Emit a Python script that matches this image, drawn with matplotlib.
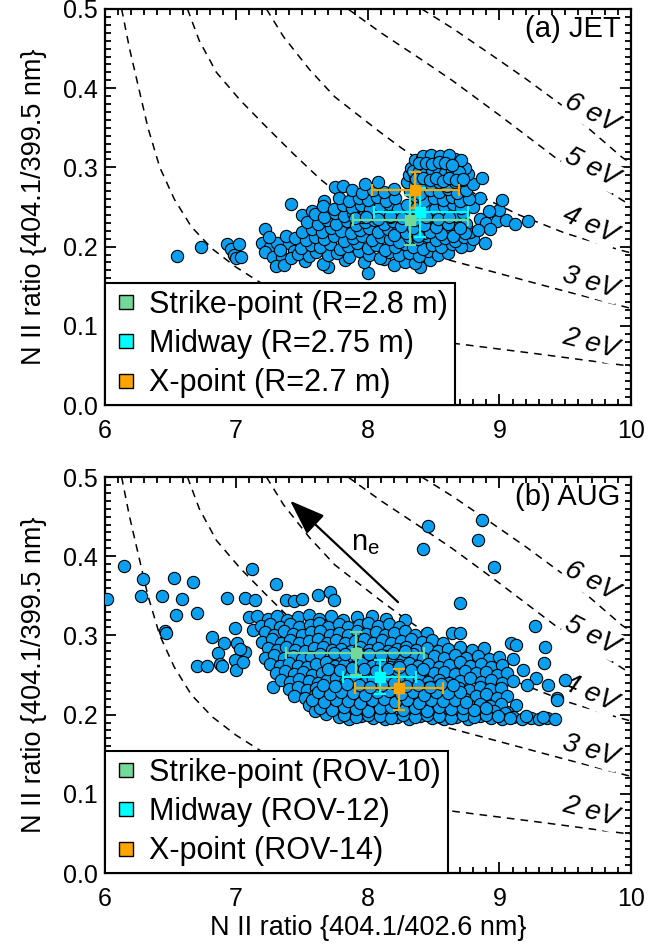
import numpy as np
import matplotlib
matplotlib.use("Agg")
import matplotlib.pyplot as plt
from matplotlib.lines import Line2D
from matplotlib.ticker import MultipleLocator, FixedLocator, FixedFormatter

plt.rcParams['font.family'] = ['Liberation Sans', 'DejaVu Sans']
plt.rcParams['mathtext.fontset'] = 'custom'
plt.rcParams['mathtext.rm'] = 'Liberation Sans'
plt.rcParams['mathtext.it'] = 'Liberation Sans:italic'

# ---------------- Te contour curves ----------------
te_labels = ['2 eV', '3 eV', '4 eV', '5 eV', '6 eV']
c2_x = [6.13, 6.19, 6.26, 6.33, 6.42, 6.53, 6.66, 6.82, 7.00, 7.18, 7.60, 8.10, 8.65, 9.27, 10.0]
c2_y = [0.50, 0.45, 0.40, 0.35, 0.30, 0.26, 0.225, 0.197, 0.174, 0.155, 0.118, 0.094, 0.078, 0.065, 0.049]
c3_x = [6.63, 6.72, 6.85, 7.03, 7.23, 7.43, 7.64, 7.85, 8.10, 8.35, 8.62, 9.00, 9.47, 10.0]
c3_y = [0.50, 0.46, 0.42, 0.385, 0.351, 0.318, 0.285, 0.257, 0.228, 0.204, 0.183, 0.166, 0.145, 0.122]
c4_x = [7.23, 7.36, 7.56, 7.75, 8.09, 8.26, 8.50, 8.80, 9.15, 9.50, 9.91, 10.0]
c4_y = [0.50, 0.465, 0.423, 0.389, 0.345, 0.324, 0.297, 0.268, 0.240, 0.217, 0.196, 0.192]
c5_x = [7.85, 8.10, 8.40, 8.64, 9.00, 9.42, 9.93, 10.0]
c5_y = [0.50, 0.47, 0.437, 0.41, 0.366, 0.313, 0.259, 0.252]
c6_x = [8.41, 8.65, 8.94, 9.20, 9.47, 9.93, 10.0]
c6_y = [0.50, 0.475, 0.442, 0.412, 0.379, 0.313, 0.305]
lab_x = [9.69, 9.69, 9.69, 9.70, 9.70]
lab_y = [0.077, 0.155, 0.227, 0.300, 0.369]
lab_rot = [-15, -17, -24, -27, -28]

# ---------------- JET scatter ----------------
jet_x_extra = [6.55, 6.73, 6.93, 6.96, 6.98, 7.02, 7.00, 7.04,
               7.22, 7.20, 7.26, 7.31, 7.22, 7.28, 7.35, 7.30, 7.36, 7.40, 7.44, 7.42, 7.25, 7.33, 7.38,
               7.42, 7.50, 7.67, 7.75, 7.81, 7.58, 7.62,
               7.70, 8.00, 8.40,
               8.85, 8.90, 8.98, 9.05, 9.12, 9.22, 9.00, 9.02, 8.93, 8.89, 8.77, 8.80, 8.85, 8.92]
jet_y_extra = [0.188, 0.200, 0.203, 0.197, 0.190, 0.203, 0.185, 0.187,
               0.222, 0.205, 0.200, 0.205, 0.193, 0.187, 0.187, 0.175, 0.177, 0.205, 0.195, 0.186, 0.212, 0.196, 0.213,
               0.254, 0.240, 0.258, 0.275, 0.276, 0.245, 0.236,
               0.174, 0.167, 0.174,
               0.235, 0.230, 0.232, 0.234, 0.228, 0.232, 0.246, 0.259, 0.222, 0.205, 0.202, 0.250, 0.262, 0.245]
jet_rows_x = [
    [7.52, 7.66, 7.83, 7.97, 8.12, 8.20, 8.28, 8.36, 8.47],
    [7.47, 7.55, 7.61, 7.70, 7.77, 7.86, 7.93, 8.01, 8.09, 8.16, 8.24, 8.31, 8.39, 8.46, 8.53, 8.61],
    [7.49, 7.57, 7.64, 7.71, 7.79, 7.85, 7.92, 8.00, 8.06, 8.13, 8.21, 8.28, 8.34, 8.42, 8.49, 8.56, 8.64, 8.71],
    [7.45, 7.53, 7.60, 7.67, 7.74, 7.82, 7.89, 7.96, 8.03, 8.10, 8.17, 8.24, 8.31, 8.38, 8.45, 8.52, 8.59, 8.66,
     8.73, 8.80],
    [7.50, 7.58, 7.65, 7.72, 7.80, 7.87, 7.94, 8.01, 8.08, 8.15, 8.22, 8.29, 8.36, 8.43, 8.50, 8.57, 8.64, 8.71,
     8.78, 8.84],
    [7.54, 7.62, 7.69, 7.76, 7.84, 7.91, 7.98, 8.05, 8.12, 8.19, 8.26, 8.33, 8.40, 8.47, 8.54, 8.61, 8.68, 8.75],
    [7.60, 7.67, 7.75, 7.82, 7.89, 7.96, 8.03, 8.10, 8.17, 8.24, 8.31, 8.38, 8.45, 8.52, 8.59, 8.66, 8.72],
    [7.66, 7.74, 7.81, 7.88, 7.95, 8.02, 8.09, 8.16, 8.23, 8.30, 8.37, 8.44, 8.51, 8.58, 8.65, 8.71],
    [7.78, 7.86, 7.93, 8.00, 8.07, 8.14, 8.21, 8.36, 8.43, 8.50, 8.57, 8.64, 8.70, 8.77],
    [7.88, 7.96, 8.04, 8.12, 8.20, 8.32, 8.40, 8.47, 8.54, 8.61, 8.68, 8.75],
    [7.98, 8.08, 8.30, 8.36, 8.42, 8.48, 8.54, 8.60, 8.66, 8.72, 8.80, 8.87],
    [8.31, 8.36, 8.41, 8.46, 8.51, 8.56, 8.61, 8.66, 8.71, 8.76],
    [8.33, 8.38, 8.43, 8.48, 8.53, 8.58, 8.63, 8.68, 8.74],
    [8.36, 8.41, 8.46, 8.51, 8.56, 8.61, 8.66, 8.71],
    [8.42, 8.48, 8.55, 8.62],
    # denser core of the upper blob and of the body
    [8.34, 8.39, 8.44, 8.49, 8.54, 8.59, 8.64, 8.69],
    [8.37, 8.42, 8.47, 8.52, 8.57, 8.62, 8.67, 8.72],
    [8.39, 8.44, 8.49, 8.54, 8.59, 8.64],
    [8.20, 8.29, 8.38, 8.47, 8.56, 8.65, 8.74],
    [8.25, 8.34, 8.43, 8.52, 8.61, 8.70],
    [7.90, 7.99, 8.08, 8.17, 8.26, 8.35, 8.44, 8.53, 8.62],
]
jet_rows_y = [
    [0.182, 0.178, 0.183, 0.180, 0.184, 0.177, 0.181, 0.179, 0.183],
    [0.191, 0.188, 0.193, 0.189, 0.192, 0.187, 0.194, 0.190, 0.186, 0.193, 0.189, 0.192, 0.188, 0.194, 0.190, 0.192],
    [0.198, 0.202, 0.199, 0.203, 0.197, 0.201, 0.204, 0.198, 0.202, 0.196, 0.200, 0.203, 0.199, 0.197, 0.202, 0.199,
     0.203, 0.200],
    [0.211, 0.208, 0.212, 0.209, 0.213, 0.207, 0.211, 0.214, 0.208, 0.212, 0.209, 0.206, 0.212, 0.210, 0.214, 0.208,
     0.211, 0.207, 0.212, 0.209],
    [0.219, 0.222, 0.218, 0.223, 0.220, 0.217, 0.221, 0.224, 0.219, 0.222, 0.218, 0.223, 0.220, 0.217, 0.221, 0.224,
     0.219, 0.222, 0.218, 0.221],
    [0.231, 0.228, 0.233, 0.229, 0.232, 0.227, 0.231, 0.234, 0.228, 0.232, 0.229, 0.233, 0.227, 0.231, 0.234, 0.229,
     0.232, 0.228],
    [0.241, 0.238, 0.242, 0.239, 0.243, 0.237, 0.241, 0.244, 0.238, 0.242, 0.239, 0.243, 0.237, 0.241, 0.244, 0.239,
     0.242],
    [0.251, 0.248, 0.253, 0.249, 0.252, 0.247, 0.251, 0.254, 0.248, 0.252, 0.249, 0.253, 0.247, 0.251, 0.254, 0.249],
    [0.261, 0.258, 0.262, 0.259, 0.263, 0.257, 0.261, 0.264, 0.258, 0.262, 0.259, 0.263, 0.257, 0.260],
    [0.271, 0.268, 0.272, 0.269, 0.273, 0.270, 0.267, 0.272, 0.269, 0.273, 0.268, 0.271],
    [0.279, 0.282, 0.281, 0.278, 0.283, 0.279, 0.282, 0.277, 0.281, 0.284, 0.279, 0.287],
    [0.291, 0.288, 0.292, 0.289, 0.293, 0.288, 0.291, 0.294, 0.289, 0.292],
    [0.299, 0.302, 0.298, 0.303, 0.300, 0.297, 0.301, 0.304, 0.299],
    [0.309, 0.312, 0.308, 0.313, 0.310, 0.307, 0.311, 0.309],
    [0.315, 0.316, 0.314, 0.316],
    [0.295, 0.296, 0.294, 0.297, 0.295, 0.293, 0.296, 0.294],
    [0.285, 0.286, 0.284, 0.287, 0.283, 0.286, 0.284, 0.285],
    [0.305, 0.306, 0.304, 0.307, 0.305, 0.303],
    [0.215, 0.217, 0.214, 0.218, 0.216, 0.213, 0.217],
    [0.226, 0.224, 0.227, 0.225, 0.228, 0.224],
    [0.236, 0.238, 0.235, 0.239, 0.236, 0.234, 0.238, 0.235, 0.237],
]

# ---------------- AUG scatter ----------------
aug_x_extra = [6.02, 6.15, 6.29, 6.28, 6.44, 6.53, 6.59, 6.67, 6.54, 6.70, 6.46, 6.47, 6.82, 6.91, 6.86,
               6.88, 6.89, 6.70, 6.78, 6.99, 7.01, 7.07, 6.93, 7.07, 7.14, 7.12, 7.30, 7.38, 7.44, 7.50,
               7.62, 7.71, 7.74, 7.10, 7.13, 6.99, 7.00, 7.05, 7.03, 7.28,
               8.46, 8.87, 8.84, 8.42, 8.96, 8.70, 9.27, 8.28, 8.64, 8.70, 9.09, 9.13, 9.35, 9.34, 9.50,
               9.44, 9.28, 9.37, 9.21, 9.10, 9.18, 9.13, 9.06, 9.44]
aug_y_extra = [0.346, 0.388, 0.371, 0.350, 0.350, 0.372, 0.346, 0.367, 0.326, 0.328, 0.306, 0.303, 0.298, 0.291, 0.278,
               0.264, 0.261, 0.261, 0.261, 0.309, 0.290, 0.279, 0.347, 0.347, 0.345, 0.384, 0.365, 0.345, 0.343, 0.346,
               0.351, 0.355, 0.345, 0.323, 0.307, 0.269, 0.256, 0.266, 0.283, 0.235,
               0.438, 0.446, 0.420, 0.409, 0.386, 0.341, 0.312, 0.319, 0.303, 0.303, 0.290, 0.288, 0.285, 0.265, 0.244,
               0.221, 0.246, 0.237, 0.237, 0.270, 0.256, 0.212, 0.203, 0.218]
aug_rows_x = [
    [7.16, 7.24, 7.31, 7.39, 7.47, 7.55, 7.63, 7.72, 7.81, 7.92, 8.03, 8.14],
    [7.19, 7.26, 7.33, 7.41, 7.48, 7.56, 7.63, 7.70, 7.78, 7.85, 7.93, 8.00, 8.08, 8.16, 8.24],
    [7.22, 7.29, 7.36, 7.43, 7.50, 7.57, 7.64, 7.71, 7.78, 7.85, 7.92, 7.99, 8.06, 8.13, 8.20, 8.28, 8.36, 8.45],
    [7.20, 7.27, 7.34, 7.41, 7.48, 7.55, 7.62, 7.69, 7.76, 7.83, 7.90, 7.97, 8.04, 8.11, 8.18, 8.25, 8.33, 8.41,
     8.49, 8.57],
    [7.24, 7.31, 7.38, 7.45, 7.52, 7.59, 7.66, 7.73, 7.80, 7.87, 7.94, 8.01, 8.08, 8.15, 8.22, 8.29, 8.37, 8.45,
     8.53, 8.61, 8.70, 8.79, 8.88],
    [7.22, 7.29, 7.36, 7.43, 7.50, 7.57, 7.64, 7.71, 7.78, 7.85, 7.92, 7.99, 8.06, 8.13, 8.20, 8.27, 8.34, 8.42,
     8.50, 8.58, 8.66, 8.75, 8.84, 8.92, 9.00],
    [7.26, 7.33, 7.40, 7.47, 7.54, 7.61, 7.68, 7.75, 7.82, 7.89, 7.96, 8.03, 8.10, 8.17, 8.24, 8.31, 8.38, 8.46,
     8.54, 8.62, 8.70, 8.78, 8.86, 8.94, 9.02],
    [7.30, 7.37, 7.44, 7.51, 7.58, 7.65, 7.72, 7.79, 7.86, 7.93, 8.00, 8.07, 8.14, 8.21, 8.28, 8.35, 8.42, 8.50,
     8.58, 8.66, 8.74, 8.82, 8.90, 8.98, 9.06],
    [7.34, 7.41, 7.48, 7.55, 7.62, 7.69, 7.76, 7.83, 7.90, 7.97, 8.04, 8.11, 8.18, 8.25, 8.32, 8.39, 8.46, 8.54,
     8.62, 8.70, 8.78, 8.86, 8.94, 9.02, 9.10],
    [7.40, 7.47, 7.54, 7.61, 7.68, 7.75, 7.82, 7.89, 7.96, 8.03, 8.10, 8.17, 8.24, 8.31, 8.38, 8.45, 8.53, 8.61,
     8.69, 8.77, 8.85, 8.93, 9.01],
    [7.44, 7.52, 7.60, 7.67, 7.74, 7.81, 7.88, 7.95, 8.02, 8.09, 8.16, 8.23, 8.30, 8.37, 8.44, 8.51, 8.58, 8.66,
     8.74, 8.82, 8.90, 8.98, 9.06],
    [7.55, 7.63, 7.71, 7.78, 7.85, 7.92, 7.99, 8.06, 8.13, 8.20, 8.27, 8.34, 8.41, 8.48, 8.55, 8.62, 8.69, 8.77,
     8.85, 8.93, 9.01],
    [7.60, 7.68, 7.76, 7.84, 7.92, 8.00, 8.08, 8.16, 8.24, 8.32, 8.40, 8.48, 8.56, 8.64, 8.72, 8.80, 8.88, 8.96,
     9.04],
    [7.78, 7.86, 7.95, 8.04, 8.13, 8.22, 8.31, 8.40, 8.49, 8.58, 8.67, 8.76, 8.85, 8.94, 9.02, 9.10, 9.17, 9.24,
     9.30, 9.36, 9.42],
    # denser core
    [7.82, 7.91, 8.00, 8.09, 8.18, 8.27, 8.36, 8.45, 8.54, 8.63, 8.72, 8.81, 8.90, 8.99, 9.08, 9.20, 9.33],
    [7.64, 7.73, 7.82, 7.91, 8.00, 8.09, 8.18, 8.27, 8.36, 8.45, 8.54, 8.63, 8.72, 8.81, 8.90],
    [7.58, 7.67, 7.76, 7.85, 7.94, 8.03, 8.12, 8.21, 8.30, 8.39, 8.48, 8.57, 8.66, 8.75],
    [7.62, 7.71, 7.80, 7.89, 7.98, 8.07, 8.16, 8.25, 8.34, 8.43, 8.52, 8.61, 8.70],
    [7.66, 7.75, 7.84, 7.93, 8.02, 8.11, 8.20, 8.29, 8.38, 8.47, 8.56, 8.65],
    [7.70, 7.79, 7.88, 7.97, 8.06, 8.15, 8.24, 8.33, 8.42],
    [7.74, 7.83, 7.92, 8.01, 8.10, 8.19, 8.28],
]
aug_rows_y = [
    [0.324, 0.321, 0.325, 0.320, 0.323, 0.326, 0.321, 0.324, 0.320, 0.323, 0.325, 0.321],
    [0.312, 0.315, 0.311, 0.314, 0.310, 0.313, 0.316, 0.311, 0.314, 0.310, 0.313, 0.316, 0.312, 0.315, 0.311],
    [0.304, 0.301, 0.305, 0.302, 0.300, 0.304, 0.306, 0.301, 0.303, 0.300, 0.305, 0.302, 0.304, 0.300, 0.303, 0.305,
     0.301, 0.303],
    [0.292, 0.295, 0.291, 0.294, 0.290, 0.293, 0.296, 0.291, 0.294, 0.290, 0.293, 0.295, 0.291, 0.294, 0.290, 0.293,
     0.296, 0.292, 0.294, 0.291],
    [0.284, 0.281, 0.285, 0.282, 0.280, 0.284, 0.286, 0.281, 0.283, 0.280, 0.285, 0.282, 0.284, 0.280, 0.283, 0.285,
     0.281, 0.284, 0.280, 0.283, 0.286, 0.281, 0.284],
    [0.272, 0.275, 0.271, 0.274, 0.270, 0.273, 0.276, 0.271, 0.274, 0.270, 0.273, 0.275, 0.271, 0.274, 0.270, 0.273,
     0.276, 0.272, 0.274, 0.271, 0.275, 0.272, 0.274, 0.270, 0.273],
    [0.264, 0.261, 0.265, 0.262, 0.260, 0.264, 0.266, 0.261, 0.263, 0.260, 0.265, 0.262, 0.264, 0.260, 0.263, 0.265,
     0.261, 0.264, 0.260, 0.263, 0.266, 0.261, 0.264, 0.260, 0.263],
    [0.252, 0.255, 0.251, 0.254, 0.250, 0.253, 0.256, 0.251, 0.254, 0.250, 0.253, 0.255, 0.251, 0.254, 0.250, 0.253,
     0.256, 0.252, 0.254, 0.251, 0.255, 0.252, 0.254, 0.250, 0.253],
    [0.244, 0.241, 0.245, 0.242, 0.240, 0.244, 0.246, 0.241, 0.243, 0.240, 0.245, 0.242, 0.244, 0.240, 0.243, 0.245,
     0.241, 0.244, 0.240, 0.243, 0.246, 0.241, 0.244, 0.240, 0.243],
    [0.232, 0.235, 0.231, 0.234, 0.230, 0.233, 0.236, 0.231, 0.234, 0.230, 0.233, 0.235, 0.231, 0.234, 0.230, 0.233,
     0.236, 0.232, 0.234, 0.231, 0.235, 0.232, 0.234],
    [0.224, 0.221, 0.225, 0.222, 0.220, 0.224, 0.226, 0.221, 0.223, 0.220, 0.225, 0.222, 0.224, 0.220, 0.223, 0.225,
     0.221, 0.224, 0.220, 0.223, 0.226, 0.221, 0.224],
    [0.212, 0.215, 0.211, 0.214, 0.210, 0.213, 0.216, 0.211, 0.214, 0.210, 0.213, 0.215, 0.211, 0.214, 0.210, 0.213,
     0.216, 0.212, 0.214, 0.211, 0.213],
    [0.204, 0.201, 0.205, 0.202, 0.200, 0.204, 0.206, 0.201, 0.203, 0.200, 0.205, 0.202, 0.204, 0.200, 0.203, 0.205,
     0.201, 0.204, 0.202],
    [0.197, 0.195, 0.198, 0.196, 0.194, 0.197, 0.195, 0.198, 0.196, 0.194, 0.197, 0.195, 0.198, 0.196, 0.194, 0.197,
     0.195, 0.196, 0.194, 0.196, 0.195],
    [0.199, 0.197, 0.200, 0.198, 0.196, 0.199, 0.197, 0.200, 0.198, 0.196, 0.199, 0.197, 0.200, 0.198, 0.196, 0.198,
     0.197],
    [0.208, 0.206, 0.209, 0.207, 0.205, 0.208, 0.210, 0.206, 0.208, 0.205, 0.209, 0.207, 0.208, 0.206, 0.208],
    [0.218, 0.216, 0.219, 0.217, 0.215, 0.218, 0.220, 0.216, 0.218, 0.215, 0.219, 0.217, 0.218, 0.216],
    [0.228, 0.226, 0.229, 0.227, 0.225, 0.228, 0.230, 0.226, 0.228, 0.225, 0.229, 0.227, 0.228],
    [0.238, 0.236, 0.239, 0.237, 0.235, 0.238, 0.240, 0.236, 0.238, 0.235, 0.239, 0.237],
    [0.258, 0.256, 0.259, 0.257, 0.255, 0.258, 0.260, 0.256, 0.258],
    [0.278, 0.276, 0.279, 0.277, 0.275, 0.278, 0.280],
]

# ---------------- location means with error bars ----------------
loc_colors = ['#72D998', '#00FFFF', '#FFA500']
jet_labels = ['Strike-point (R=2.8 m)', 'Midway (R=2.75 m)', 'X-point (R=2.7 m)']
jet_mx = [8.32, 8.40, 8.36]
jet_xlo = [7.89, 8.05, 8.03]
jet_xhi = [8.76, 8.76, 8.69]
jet_my = [0.234, 0.244, 0.271]
jet_ylo = [0.202, 0.212, 0.249]
jet_yhi = [0.265, 0.274, 0.294]

aug_labels = ['Strike-point (ROV-10)', 'Midway (ROV-12)', 'X-point (ROV-14)']
aug_mx = [7.91, 8.09, 8.24]
aug_xlo = [7.38, 7.81, 7.90]
aug_xhi = [8.43, 8.37, 8.57]
aug_my = [0.278, 0.247, 0.233]
aug_ylo = [0.250, 0.226, 0.206]
aug_yhi = [0.304, 0.269, 0.258]

point_color = '#0BA0EF'


def flatten(rows_x, rows_y, ex, ey):
    xs, ys = [], []
    for a, b in zip(ex, ey):
        xs.append(a)
        ys.append(b)
    for xr, yr in zip(rows_x, rows_y):
        for a, b in zip(xr, yr):
            xs.append(a)
            ys.append(b)
    return xs, ys


def draw_panel(ax, xs, ys, mx, xlo, xhi, my, ylo, yhi, labels, title):
    curves = [(c2_x, c2_y), (c3_x, c3_y), (c4_x, c4_y), (c5_x, c5_y), (c6_x, c6_y)]
    for cx, cy in curves:
        ax.plot(cx, cy, color='black', lw=1.1, ls=(0, (5, 4)), zorder=1)
    for t, lx, ly, r in zip(te_labels, lab_x, lab_y, lab_rot):
        ax.text(lx, ly, t, rotation=r, ha='center', va='center', fontsize=20, style='italic',
                rotation_mode='anchor', zorder=2,
                bbox=dict(facecolor='white', edgecolor='none', pad=1.0))
    ax.scatter(xs, ys, s=78, c=point_color, edgecolors='black', linewidths=0.8, zorder=3)
    for i in range(3):
        ax.errorbar([mx[i]], [my[i]],
                    xerr=[[mx[i] - xlo[i]], [xhi[i] - mx[i]]],
                    yerr=[[my[i] - ylo[i]], [yhi[i] - my[i]]],
                    fmt='s', color=loc_colors[i], ms=7.5, mec=loc_colors[i],
                    elinewidth=1.6, capsize=4, capthick=1.6, zorder=5)
    handles = [Line2D([0], [0], marker='s', ls='none', mfc=c, mec='black', mew=1.0, ms=9.5)
               for c in loc_colors]
    leg = ax.legend(handles, labels, loc='lower left', bbox_to_anchor=(0, 0), borderaxespad=0,
                    frameon=True, fancybox=False, edgecolor='black', framealpha=1, fontsize=22,
                    handlelength=0.94, handletextpad=0.31, borderpad=0.22, labelspacing=0.3)
    leg.get_frame().set_linewidth(1.5)
    leg.set_zorder(10)
    ax.text(0.98, 0.985, title, transform=ax.transAxes, ha='right', va='top', fontsize=21)

    ax.set_xlim(6, 10)
    ax.set_ylim(0, 0.5)
    ax.xaxis.set_major_locator(FixedLocator([6, 7, 8, 9, 10]))
    ax.xaxis.set_minor_locator(MultipleLocator(0.1))
    ax.yaxis.set_major_locator(FixedLocator([0.0, 0.1, 0.2, 0.3, 0.4, 0.5]))
    ax.yaxis.set_major_formatter(FixedFormatter(['0.0', '0.1', '0.2', '0.3', '0.4', '0.5']))
    ax.yaxis.set_minor_locator(MultipleLocator(0.01))
    ax.tick_params(which='both', direction='in', top=True, right=True, width=1.3)
    ax.tick_params(which='major', length=8, labelsize=18)
    ax.tick_params(axis='x', which='major', pad=10)
    ax.tick_params(axis='y', which='major', pad=5)
    ax.tick_params(which='minor', length=4)
    for sp in ax.spines.values():
        sp.set_linewidth(1.6)
    ax.set_ylabel('N II ratio {404.1/399.5 nm}', fontsize=19.5)
    ax.yaxis.set_label_coords(-0.11, 0.5)


fig = plt.figure(figsize=(6.7, 9.47), dpi=100)
axa = fig.add_axes([0.156, 0.5723, 0.7858, 0.4182])
axb = fig.add_axes([0.156, 0.0781, 0.7858, 0.4182])

jx, jy = flatten(jet_rows_x, jet_rows_y, jet_x_extra, jet_y_extra)
draw_panel(axa, jx, jy, jet_mx, jet_xlo, jet_xhi, jet_my, jet_ylo, jet_yhi, jet_labels, '(a) JET')

bx, by = flatten(aug_rows_x, aug_rows_y, aug_x_extra, aug_y_extra)
draw_panel(axb, bx, by, aug_mx, aug_xlo, aug_xhi, aug_my, aug_ylo, aug_yhi, aug_labels, '(b) AUG')

# n_e arrow in panel b
ne_tail = (8.23, 0.342)
ne_head = (7.41, 0.470)
axb.annotate('', xy=ne_head, xytext=ne_tail,
             arrowprops=dict(arrowstyle='-|>,head_length=1.1,head_width=0.4', color='black',
                             lw=1.6, mutation_scale=20, shrinkA=0, shrinkB=0), zorder=4)
axb.text(7.98, 0.417, r'n$_\mathregular{e}$', fontsize=21, ha='center', va='center', zorder=4)

axb.set_xlabel('N II ratio {404.1/402.6 nm}', fontsize=19.5)
axb.xaxis.set_label_coords(0.5, -0.105)

fig.savefig('out.png', dpi=100)
